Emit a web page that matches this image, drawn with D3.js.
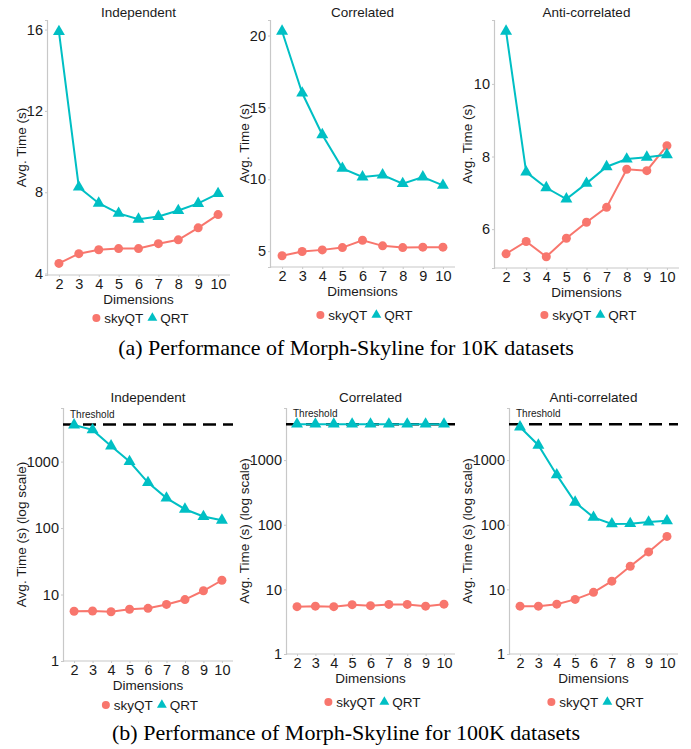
<!DOCTYPE html>
<html>
<head>
<meta charset="utf-8">
<script src="https://cdn.jsdelivr.net/npm/d3@7"></script>
<style>
  body { margin: 0; background: #fff; }
  svg { display: block; font-family: "Liberation Sans", Arial, sans-serif; }
</style>
</head>
<body>
<svg id="chart" width="691" height="749"></svg>
<script>
// dimensions on the x axis
const dims = [2, 3, 4, 5, 6, 7, 8, 9, 10];

// 10K datasets (seconds)
const skyInd10k  = [4.5, 4.98, 5.17, 5.23, 5.23, 5.47, 5.66, 6.25, 6.9];
const qrtInd10k  = [15.9, 8.25, 7.46, 6.96, 6.67, 6.81, 7.1, 7.45, 7.93];
const skyCor10k  = [4.68, 4.98, 5.09, 5.25, 5.76, 5.37, 5.25, 5.28, 5.28];
const qrtCor10k  = [20.3, 16.0, 13.1, 10.76, 10.16, 10.3, 9.7, 10.16, 9.58];
const skyAnti10k = [5.32, 5.66, 5.24, 5.75, 6.19, 6.6, 7.65, 7.61, 8.3];
const qrtAnti10k = [11.45, 7.57, 7.14, 6.83, 7.26, 7.72, 7.93, 7.98, 8.05];

// 100K datasets (seconds, log scale)
const skyInd100k  = [5.6, 5.65, 5.5, 6.0, 6.2, 7.1, 8.4, 11.4, 16.4];
const qrtInd100k  = [3550, 3000, 1720, 1000, 483, 282, 192, 149, 131];
const skyCor100k  = [5.4, 5.5, 5.4, 5.8, 5.6, 5.85, 5.85, 5.5, 5.9];
const qrtCor100k  = [3600, 3600, 3600, 3600, 3600, 3600, 3600, 3600, 3600];
const skyAnti100k = [5.5, 5.5, 5.9, 7.0, 9.0, 13.4, 22.8, 38, 66];
const qrtAnti100k = [3250, 1700, 590, 223, 130, 103, 104, 110, 115];

// tick labels
const ticksInd10k  = [4, 8, 12, 16];
const ticksCor10k  = [5, 10, 15, 20];
const ticksAnti10k = [6, 8, 10];
const ticksLog     = [1, 10, 100, 1000];

const threshold = 3600;
const logMax = 6400;

const seriesNames = ["skyQT", "QRT"];
const colors = { skyQT: "#F8766D", QRT: "#00BFC4" };

const captions = [
  "(a) Performance of Morph-Skyline for 10K datasets",
  "(b) Performance of Morph-Skyline for 100K datasets"
];

const panels = [
  { title: "Independent", sky: skyInd10k, qrt: qrtInd10k, ticks: ticksInd10k, log: false,
    left: 47, right: 230, top: 20, bottom: 275, titleY: 16.5, ylabX: 21, legY: 318 },
  { title: "Correlated", sky: skyCor10k, qrt: qrtCor10k, ticks: ticksCor10k, log: false,
    left: 270, right: 455, top: 20, bottom: 267, titleY: 16.5, ylabX: 244, legY: 315 },
  { title: "Anti-correlated", sky: skyAnti10k, qrt: qrtAnti10k, ticks: ticksAnti10k, log: false,
    left: 494, right: 679, top: 20, bottom: 268, titleY: 16.5, ylabX: 467, legY: 315 },
  { title: "Independent", sky: skyInd100k, qrt: qrtInd100k, ticks: ticksLog, log: true,
    left: 63, right: 233, top: 408, bottom: 661, titleY: 401.5, ylabX: 21, legY: 705 },
  { title: "Correlated", sky: skyCor100k, qrt: qrtCor100k, ticks: ticksLog, log: true,
    left: 286, right: 455, top: 408, bottom: 654, titleY: 401.5, ylabX: 244, legY: 702 },
  { title: "Anti-correlated", sky: skyAnti100k, qrt: qrtAnti100k, ticks: ticksLog, log: true,
    left: 509, right: 678, top: 408, bottom: 654, titleY: 401.5, ylabX: 467, legY: 702 }
];

const svg = d3.select("#chart");
svg.append("rect").attr("width", 691).attr("height", 749).attr("fill", "#fff");

const triangle = d3.symbol().type(d3.symbolTriangle);

panels.forEach(p => {
  const g = svg.append("g");

  const x = d3.scalePoint()
    .domain(dims)
    .range([p.left, p.right])
    .padding(0.6);

  let y;
  if (p.log) {
    y = d3.scaleLog().domain([1, logMax]).range([p.bottom, p.top]);
  } else {
    const all = p.sky.concat(p.qrt);
    const lo = d3.min(all), hi = d3.max(all), pad = (hi - lo) * 0.05;
    y = d3.scaleLinear().domain([lo - pad, hi + pad]).range([p.bottom, p.top]);
  }

  // axes
  const xAxis = g.append("g")
    .attr("transform", `translate(0,${p.bottom})`)
    .call(d3.axisBottom(x).tickSizeOuter(0).tickSize(2).tickPadding(2));
  const yAxis = g.append("g")
    .attr("transform", `translate(${p.left},0)`)
    .call(d3.axisLeft(y).tickValues(p.ticks).tickFormat(d3.format("d")).tickSizeOuter(0).tickSize(2).tickPadding(2));

  [xAxis, yAxis].forEach(a => {
    a.select(".domain").attr("stroke", "#c8c8c8").attr("stroke-width", 1.2);
    a.selectAll(".tick line").attr("stroke", "#c8c8c8");
    a.selectAll(".tick text").attr("fill", "#1a1a1a").style("font-size", "14.5px")
      .style("font-family", "'Liberation Sans', Arial, sans-serif");
  });
  // extend x-axis line to the left corner
  xAxis.select(".domain").attr("d", `M${p.left},0H${p.right}`);

  const cx = (p.left + p.right) / 2;

  // title
  g.append("text")
    .attr("x", cx).attr("y", p.titleY)
    .attr("text-anchor", "middle")
    .style("font-size", "13.5px").attr("fill", "#1a1a1a")
    .text(p.title);

  // axis titles
  g.append("text")
    .attr("x", cx).attr("y", p.bottom + 28.5)
    .attr("text-anchor", "middle")
    .style("font-size", "13.5px").attr("fill", "#1a1a1a")
    .text("Dimensions");
  g.append("text")
    .attr("transform", `translate(${p.ylabX},${(p.top + p.bottom) / 2}) rotate(-90)`)
    .attr("text-anchor", "middle")
    .attr("dy", "0.35em")
    .style("font-size", "13.5px").attr("fill", "#1a1a1a")
    .text(p.log ? "Avg. Time (s) (log scale)" : "Avg. Time (s)");

  // threshold
  if (p.log) {
    g.append("line")
      .attr("x1", p.left).attr("x2", p.right)
      .attr("y1", y(threshold)).attr("y2", y(threshold))
      .attr("stroke", "#000").attr("stroke-width", 2.5)
      .attr("stroke-dasharray", "13,7");
    g.append("text")
      .attr("x", p.left + 7).attr("y", y(threshold) - 7)
      .style("font-size", "10px").attr("fill", "#1a1a1a")
      .text("Threshold");
  }

  // series
  const line = d3.line().x((d, i) => x(dims[i])).y(d => y(d));
  g.append("path").datum(p.sky)
    .attr("fill", "none").attr("stroke", colors.skyQT).attr("stroke-width", 2)
    .attr("d", line);
  g.append("path").datum(p.qrt)
    .attr("fill", "none").attr("stroke", colors.QRT).attr("stroke-width", 2)
    .attr("d", line);

  g.selectAll(".sky").data(p.sky).join("circle")
    .attr("cx", (d, i) => x(dims[i])).attr("cy", d => y(d))
    .attr("r", 4.5).attr("fill", colors.skyQT);
  g.selectAll(".qrt").data(p.qrt).join("path")
    .attr("transform", (d, i) => `translate(${x(dims[i])},${y(d)})`)
    .attr("d", triangle.size(62)())
    .attr("fill", colors.QRT);

  // legend
  const leg = g.append("g");
  let lx = 0;
  seriesNames.forEach(name => {
    if (name === "skyQT") {
      leg.append("circle").attr("cx", lx + 4).attr("cy", 0).attr("r", 4).attr("fill", colors[name]);
    } else {
      leg.append("path").attr("transform", `translate(${lx + 4},0)`)
        .attr("d", triangle.size(42)()).attr("fill", colors[name]);
    }
    const t = leg.append("text")
      .attr("x", lx + 12).attr("y", 0).attr("dy", "0.35em")
      .style("font-size", "13.5px").attr("fill", "#1a1a1a")
      .text(name);
    lx += 12 + t.node().getComputedTextLength() + 5;
  });
  const lw = lx - 5;
  leg.attr("transform", `translate(${cx + 2 - lw / 2},${p.legY})`);
});

// captions
svg.append("text")
  .attr("x", 346).attr("y", 355)
  .attr("text-anchor", "middle")
  .style("font-family", "'Liberation Serif', 'Times New Roman', serif")
  .style("font-size", "22px").attr("fill", "#000")
  .text(captions[0]);
svg.append("text")
  .attr("x", 346).attr("y", 740)
  .attr("text-anchor", "middle")
  .style("font-family", "'Liberation Serif', 'Times New Roman', serif")
  .style("font-size", "22px").attr("fill", "#000")
  .text(captions[1]);
</script>
</body>
</html>
